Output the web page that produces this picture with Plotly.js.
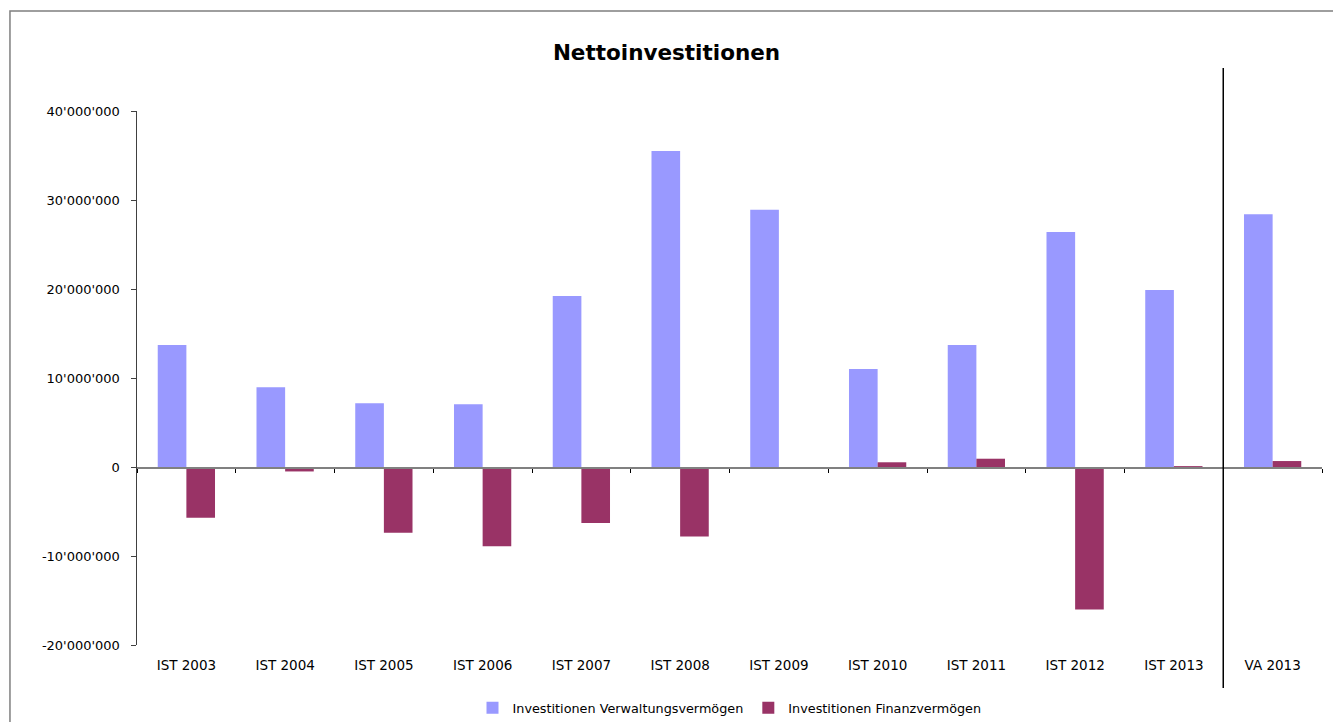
<!DOCTYPE html>
<html>
<head>
<meta charset="utf-8">
<script src="https://cdn.plot.ly/plotly-3.0.1.min.js"></script>
<style>
html,body{margin:0;padding:0;background:#fff;}
#chart{width:1333px;height:722px;}
</style>
</head>
<body>
<div id="chart"></div>
<script>
const categories = ['IST 2003','IST 2004','IST 2005','IST 2006','IST 2007','IST 2008','IST 2009','IST 2010','IST 2011','IST 2012','IST 2013','VA 2013'];
const verwaltung = [13700000, 8950000, 7150000, 7050000, 19200000, 35500000, 28900000, 11000000, 13700000, 26400000, 19900000, 28400000];
const finanz = [-5700000, -500000, -7400000, -8900000, -6300000, -7800000, -200000, 530000, 930000, -16000000, 100000, 670000];
const seriesNames = ['Investitionen Verwaltungsvermögen', 'Investitionen Finanzvermögen'];
const yTickVals = [-20000000, -10000000, 0, 10000000, 20000000, 30000000, 40000000];
const yTickText = ["-20'000'000", "-10'000'000", "0", "10'000'000", "20'000'000", "30'000'000", "40'000'000"];

const font = "DejaVu Sans, Verdana, sans-serif";

const traces = [
  {type:'bar', x: categories, y: verwaltung, name: seriesNames[0],
   marker:{color:'#9999FF'}, xaxis:'x', yaxis:'y'},
  {type:'bar', x: categories, y: finanz, name: seriesNames[1],
   marker:{color:'#993366'}, xaxis:'x', yaxis:'y'},
  {type:'scatter', mode:'markers', x: categories, y: verwaltung, xaxis:'x2', yaxis:'y',
   marker:{opacity:0}, showlegend:false, hoverinfo:'skip'}
];

const sepX = categories.length - 1.5;

const layout = {
  width:1333, height:722,
  paper_bgcolor:'#ffffff', plot_bgcolor:'#ffffff',
  margin:{l:137, r:11, t:111, b:77, autoexpand:false},
  font:{family:font, size:13, color:'#000'},
  title:{text:'<b>Nettoinvestitionen</b>', xref:'container', x:0.5, y:0.928, yanchor:'middle',
         font:{family:font, size:21.5, color:'#000'}},
  barmode:'group', bargap:0.42, bargroupgap:0,
  xaxis:{type:'category', range:[-0.5, 11.5], anchor:'free', position:1/3,
         showline:true, linecolor:'#808080', linewidth:1.5,
         ticks:'outside', tickson:'boundaries', ticklen:4, tickcolor:'#000', tickwidth:1,
         showticklabels:false, showgrid:false, zeroline:false, fixedrange:true, automargin:false},
  xaxis2:{type:'category', overlaying:'x', anchor:'y', side:'bottom', range:[-0.5, 11.5],
          showline:false, ticks:'', showgrid:false, zeroline:false, automargin:false,
          tickfont:{family:font, size:13.5, color:'#000'}, ticklabelstandoff:10},
  yaxis:{range:[-20000000, 40000000], tickvals:yTickVals, ticktext:yTickText,
         showline:true, linecolor:'#404040', linewidth:1.5, ticks:'outside', ticklen:5,
         tickcolor:'#404040', showgrid:false, zeroline:false, automargin:false,
         tickfont:{family:font, size:13, color:'#000'}, ticklabelstandoff:8},
  showlegend:true,
  legend:{orientation:'h', x:0.5, xanchor:'center', y:-0.118, yanchor:'middle',
          font:{family:font, size:12.8, color:'#000'}, itemwidth:30, tracegroupgap:0},
  shapes:[
    {type:'line', xref:'x', yref:'paper', x0:sepX, x1:sepX, y0:-0.0805, y1:1.0805,
     line:{color:'#000', width:1.5}},
    {type:'rect', xref:'paper', yref:'paper', x0:-0.1072, x1:1.1, y0:-0.3, y1:1.1873,
     line:{color:'#7f7f7f', width:1.5}, fillcolor:'rgba(0,0,0,0)', layer:'below'}
  ]
};

Plotly.newPlot('chart', traces, layout, {displayModeBar:false, staticPlot:true});
</script>
</body>
</html>
